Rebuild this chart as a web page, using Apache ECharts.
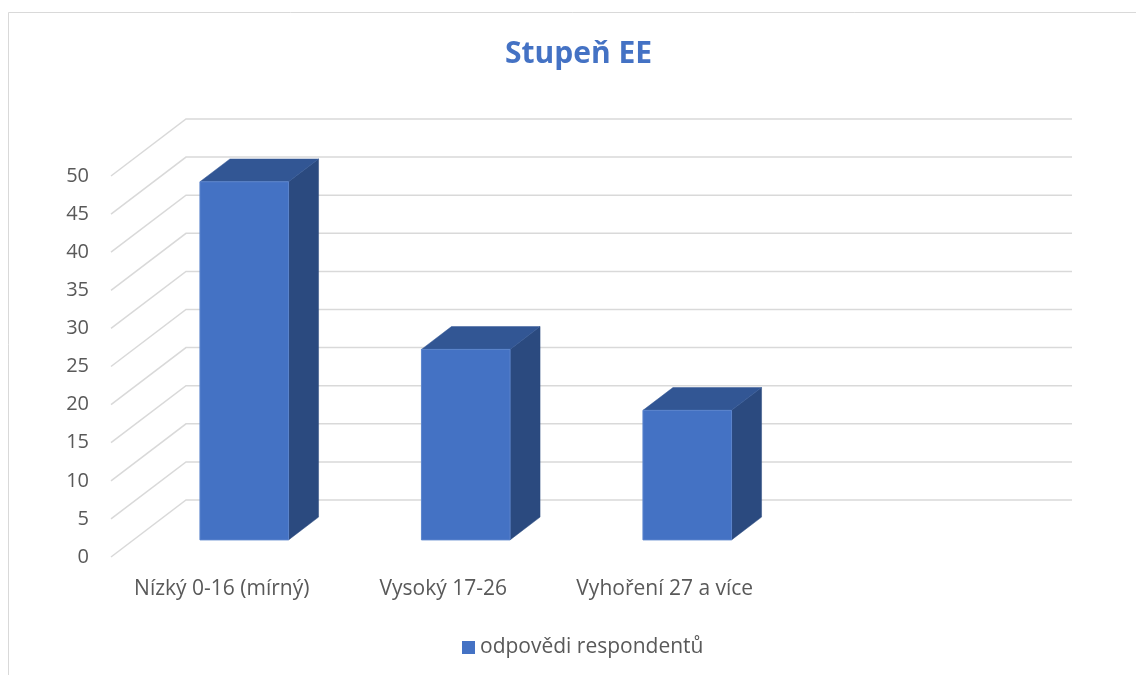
<!DOCTYPE html>
<html>
<head>
<meta charset="utf-8">
<script src="https://cdn.jsdelivr.net/npm/echarts@6/dist/echarts.min.js"></script>
<style>
html,body{margin:0;padding:0;background:#fff;}
#chart{width:1136px;height:675px;}
</style>
</head>
<body>
<div id="chart"></div>
<script>
// ---- data ----
var categories = ['Nízký 0-16 (mírný)', 'Vysoký 17-26', 'Vyhoření 27 a více', ''];
var seriesName = 'odpovědi respondentů';
var values = [47, 25, 17];
var yTicks = [0, 5, 10, 15, 20, 25, 30, 35, 40, 45, 50];
var titleText = 'Stupeň EE';

// ---- style constants ----
var DEPTH_X = 75, DEPTH_Y = 57;   // wall depth (px)
var BAR_T0 = 0.3, BAR_T1 = 0.7;   // bar depth range (fraction)
var BAR_W = 0.4;                  // bar width as fraction of slot
var FONT = 'Open Sans';
var TEXT = '#595959';

var chart = echarts.init(document.getElementById('chart'), null, {renderer: 'canvas'});

function gridItem(params, api) {
  var cs = params.coordSys;
  var v = api.value(1);
  var y = api.coord([0, v])[1];
  var x0 = cs.x;
  return {
    type: 'polyline',
    shape: {points: [[x0, y], [x0 + DEPTH_X, y - DEPTH_Y], [x0 + cs.width + DEPTH_X, y - DEPTH_Y]]},
    style: {stroke: '#D9D9D9', lineWidth: 1.5, fill: null},
    silent: true
  };
}

function barItem(params, api) {
  var i = api.value(0), v = api.value(1);
  var base = api.coord([i, 0]);
  var top = api.coord([i, v]);
  var slot = api.size([1, 0])[0];
  var w = slot * BAR_W;
  var ox = DEPTH_X * BAR_T0, oy = DEPTH_Y * BAR_T0;
  var dx = DEPTH_X * (BAR_T1 - BAR_T0), dy = DEPTH_Y * (BAR_T1 - BAR_T0);
  var xl = base[0] - w / 2 + ox, xr = base[0] + w / 2 + ox;
  var yb = base[1] - oy, yt = top[1] - oy;
  return {
    type: 'group',
    children: [
      {type: 'polygon', shape: {points: [[xr, yb], [xr + dx, yb - dy], [xr + dx, yt - dy], [xr, yt]]},
       style: {fill: '#2B4A7F', stroke: '#2B4A7F', lineWidth: 0.5}},
      {type: 'polygon', shape: {points: [[xl, yt], [xl + dx, yt - dy], [xr + dx, yt - dy], [xr, yt]]},
       style: {fill: '#325694', stroke: '#325694', lineWidth: 0.5}},
      {type: 'rect', shape: {x: xl, y: yt, width: w, height: yb - yt},
       style: {fill: '#4472C4', stroke: '#5B84CC', lineWidth: 1}}
    ]
  };
}

var option = {
  backgroundColor: '#fff',
  animation: false,
  title: {
    text: titleText, left: 500, top: 34,
    textStyle: {fontFamily: FONT, fontSize: 30, fontWeight: 'bold', color: '#4472C4'}
  },
  legend: {
    data: [{name: seriesName, icon: 'rect', itemStyle: {color: '#4472C4'}}],
    left: 457, top: 632, itemWidth: 13, itemHeight: 13, itemGap: 5,
    textStyle: {fontFamily: FONT, fontSize: 21, color: TEXT}
  },
  grid: {left: 111, top: 176, width: 886, height: 381, containLabel: false},
  xAxis: {
    type: 'category', data: categories,
    axisLine: {show: false}, axisTick: {show: false},
    axisLabel: {fontFamily: FONT, fontSize: 21, color: TEXT, margin: 22, interval: 0},
    splitLine: {show: false}
  },
  yAxis: {
    type: 'value', min: 0, max: 50, interval: 5,
    axisLine: {show: false}, axisTick: {show: false},
    axisLabel: {fontFamily: FONT, fontSize: 20, color: TEXT, margin: 22,
      formatter: function (v) { return yTicks.indexOf(v) >= 0 ? String(v) : ''; }},
    splitLine: {show: false}
  },
  graphic: [{
    type: 'rect', shape: {x: 8.5, y: 12.5, width: 1300, height: 800},
    style: {fill: null, stroke: '#D9D9D9', lineWidth: 1}, silent: true, z: -10
  }],
  series: [
    {type: 'custom', name: 'grid', renderItem: gridItem, silent: true, z: 1,
     data: yTicks.map(function (t) { return [0, t]; })},
    {type: 'custom', name: seriesName, renderItem: barItem, z: 2,
     itemStyle: {color: '#4472C4'},
     data: values.map(function (v, i) { return [i, v]; })}
  ]
};
chart.setOption(option);
</script>
</body>
</html>
